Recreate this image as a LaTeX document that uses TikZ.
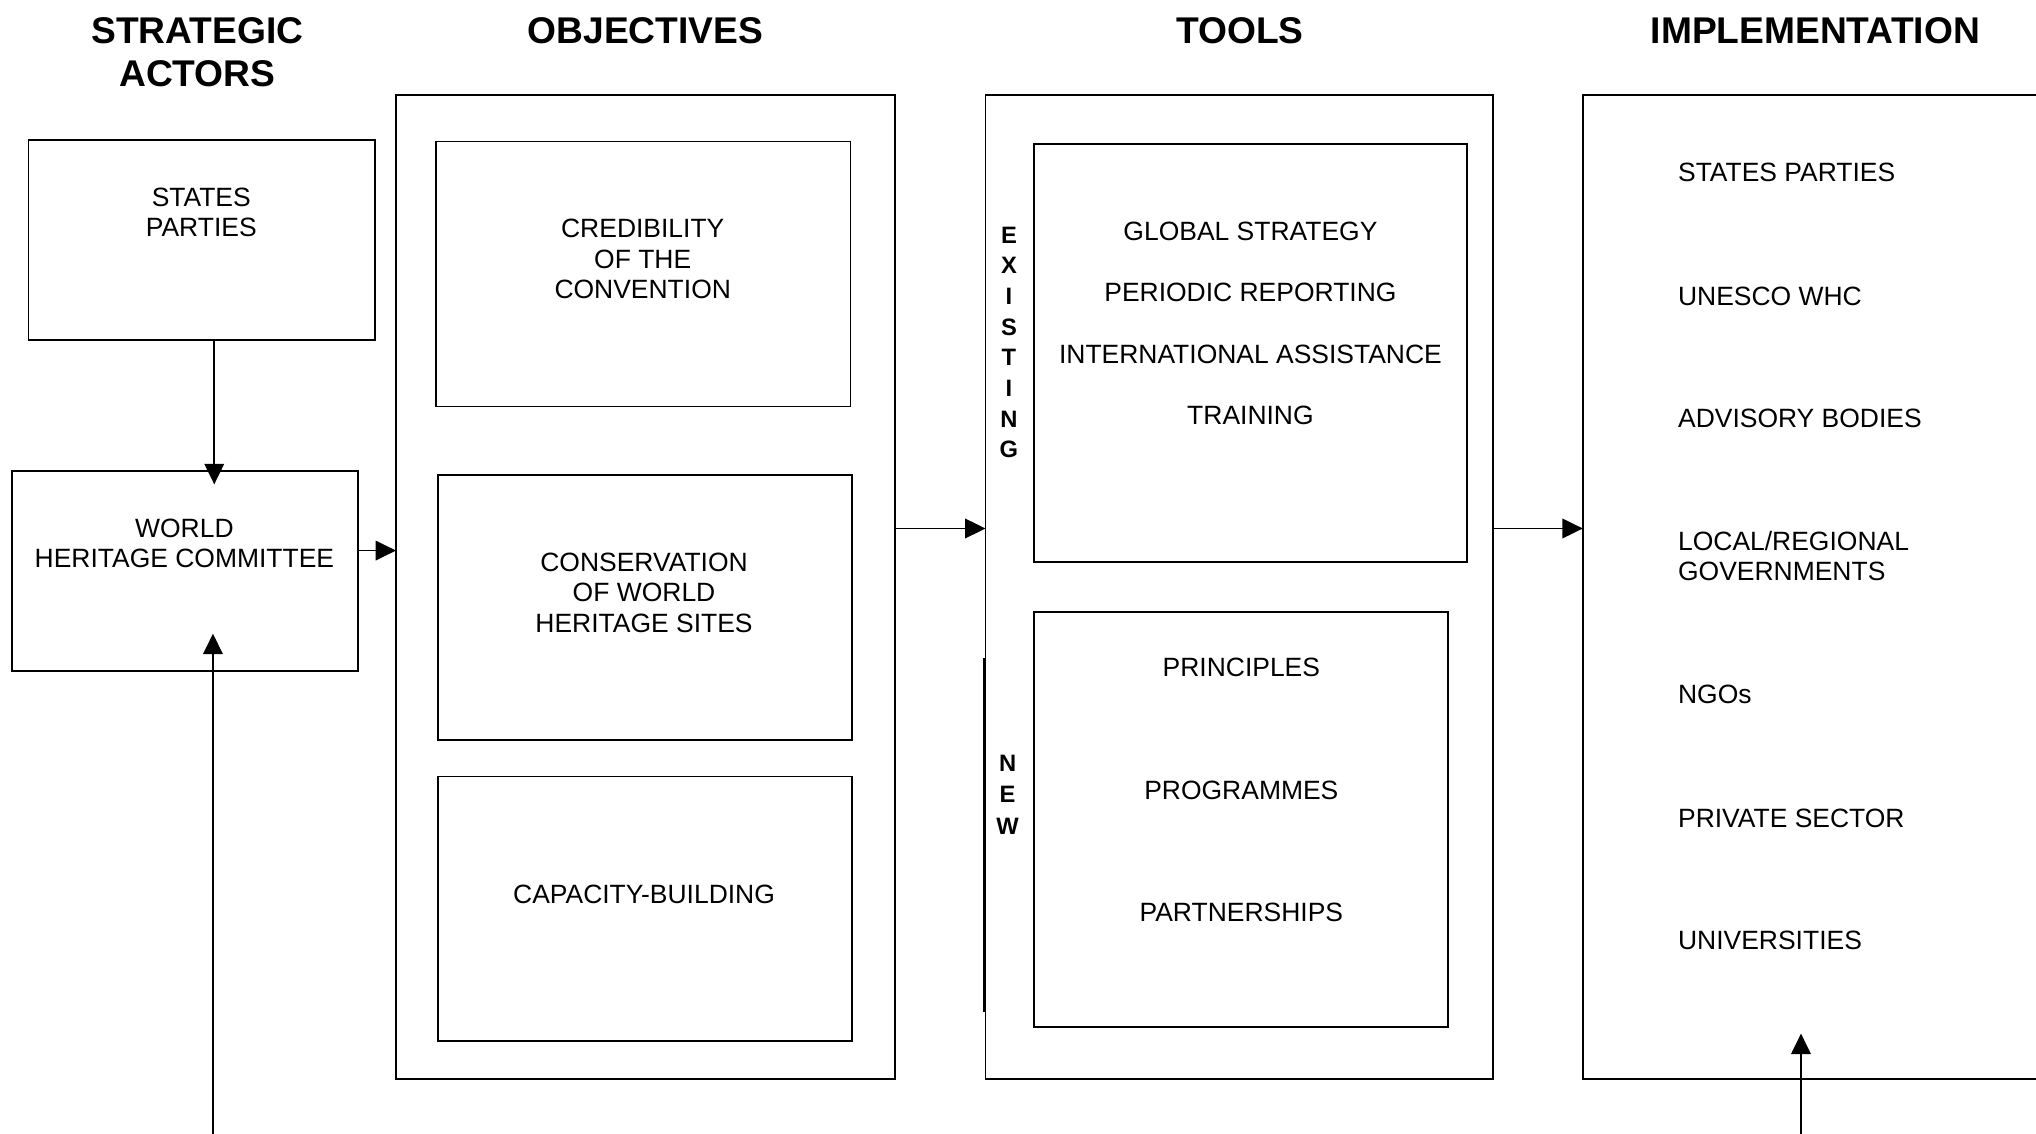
\documentclass[tikz,border=0pt]{standalone}
\usepackage{fontspec}
\setmainfont{Liberation Sans}
\usetikzlibrary{arrows.meta,fit}

\tikzset{
	panel/.style={draw, line width=0.8pt, inner sep=0pt, outer sep=0pt},
	txt/.style={font=\fontsize{11.6}{13.3}\selectfont, align=center, inner sep=0pt},
	entry/.style={txt, align=left, anchor=west},
	head/.style={font=\fontsize{16.3}{18.8}\selectfont\bfseries, align=center, inner sep=0pt},
	side/.style={font=\fontsize{10.4}{11}\selectfont\bfseries, inner sep=0pt},
	link/.style={line width=0.8pt, -{Triangle[length=9pt,width=8.6pt]}}
}

\newcommand{\panelbox}[3]{
	\node[panel, fit={#2 #3}] (#1) {};
}

\begin{document}
\begin{tikzpicture}[x=0.02cm, y=-0.02cm]

	\useasboundingbox (0,0) rectangle (1568,873);
	\clip (0,0) rectangle (1568,873);

	% column heads
	\node[head] (hactors) at (152,40.5) {STRATEGIC\\ACTORS};
	\node[head] (hobj) at (497,24) {OBJECTIVES};
	\node[head] (htools) at (955,24) {TOOLS};
	\node[head] (himpl) at (1398,24) {IMPLEMENTATION};

	% strategic actors
	\panelbox{sp}{(22,108)}{(289,262)}
	\panelbox{whc}{(9,363)}{(276,517)}
	\node[txt] (sptxt) at (155,163.5) {STATES\\PARTIES};
	\node[txt] (whctxt) at (142,418.5) {WORLD\\HERITAGE COMMITTEE};

	% objectives
	\panelbox{obj}{(305,73)}{(689,831)}
	\panelbox{cred}{(336,109)}{(655,313)}
	\panelbox{cons}{(337,366)}{(656,570)}
	\panelbox{capa}{(337,598)}{(656,802)}
	\node[txt] (credtxt) at (495,199.5) {CREDIBILITY\\OF THE\\CONVENTION};
	\node[txt] (constxt) at (496,456.5) {CONSERVATION\\OF WORLD\\HERITAGE SITES};
	\node[txt] (capatxt) at (496,689) {CAPACITY-BUILDING};

	% tools
	\panelbox{tools}{(759,73)}{(1150,831)}
	\panelbox{exist}{(796,111)}{(1130,433)}
	\panelbox{new}{(796,471)}{(1115,791)}
	\draw[line width=0.8pt] (758,507) -- (758,779);

	\foreach \t [count=\i] in {GLOBAL STRATEGY, PERIODIC REPORTING, INTERNATIONAL ASSISTANCE, TRAINING}
		\node[txt] (ex\i) at (963,{130.7+47.3*\i}) {\t};
		; %end for \t

	\foreach \t [count=\i] in {PRINCIPLES, PROGRAMMES, PARTNERSHIPS}
		\node[txt] (nt\i) at (956,{419.5+94.5*\i}) {\t};
		; %end for \t

	\foreach \c [count=\i] in {E,X,I,S,T,I,N,G}
		\node[side] (exl\i) at (777,{157.4+23.6*\i}) {\c};
		; %end for \c

	\foreach \c [count=\i] in {N,E,W}
		\node[side] (nwl\i) at (776,{564+24*\i}) {\c};
		; %end for \c

	% implementation
	\panelbox{impl}{(1219,73)}{(1600,831)}
	\foreach \t/\y [count=\i] in {STATES PARTIES/133, UNESCO WHC/228, ADVISORY BODIES/322, {LOCAL/REGIONAL\\GOVERNMENTS}/428, NGOs/535, PRIVATE SECTOR/630, UNIVERSITIES/724}
		\node[entry] (im\i) at (1292,\y) {\t};
		; %end for \t

	% arrows
	\coordinate (sptip) at (165,373);
	\coordinate (flow) at (0,407);
	\coordinate (whcfoot) at (164,873);
	\coordinate (whctip) at (164,488);
	\coordinate (implfoot) at (1387,873);
	\coordinate (impltip) at (1387,796);

	\draw[link] (sptip |- sp.south) -- (sptip);
	\draw[link] (whc.east |- 0,424) -- (obj.west |- 0,424);
	\draw[link] (obj.east |- flow) -- (tools.west |- flow);
	\draw[link] (tools.east |- flow) -- (impl.west |- flow);
	\draw[link] (whcfoot) -- (whctip);
	\draw[link] (implfoot) -- (impltip);

\end{tikzpicture}
\end{document}
